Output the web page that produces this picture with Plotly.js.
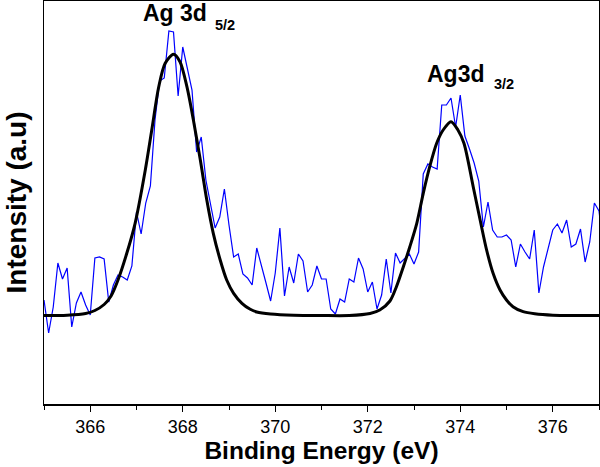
<!DOCTYPE html>
<html>
<head>
<meta charset="utf-8">
<script src="https://cdn.plot.ly/plotly-3.0.1.min.js"></script>
<style>html,body{margin:0;padding:0;background:#fff}#chart{width:600px;height:467px}</style>
</head>
<body>
<div id="chart"></div>
<script>
// Measured spectrum (binding energy in eV, step 0.1 starting at 365.0)
const rawStart = 365.0;
const rawStep = 0.1;
const rawIntensity = [
  104, 71, 97, 141, 125, 136, 77, 101, 112, 99,
  89, 146, 147, 145, 102, 119, 129, 127, 124, 138,
  192, 170, 201, 218, 284, 323, 326, 373, 372, 308,
  357, 337, 314, 252, 267, 224, 201, 176, 187, 215,
  179, 147, 150, 130, 126, 119, 156, 137, 121, 103,
  131, 176, 108, 137, 121, 150, 143, 112, 119, 138,
  125, 125, 95, 90, 105, 102, 125, 122, 146, 135,
  112, 122, 95, 109, 145, 111, 151, 141, 145, 150,
  140, 152, 230, 240, 237, 235, 299, 299, 306, 277,
  309, 268, 255, 241, 223, 177, 202, 174, 167, 167,
  169, 164, 137, 160, 152, 145, 174, 111, 137, 157,
  174, 180, 171, 184, 157, 160, 175, 142, 162, 201,
  193, 154
];
const rawEnergy = rawIntensity.map((_, i) => +(rawStart + i * rawStep).toFixed(2));

// Fitted envelope
const fitEnergy = [
  365.0, 365.5, 365.9, 366.1, 366.3, 366.45, 366.6, 366.79, 366.97, 367.19,
  367.33, 367.48, 367.62, 367.8, 367.94, 368.09, 368.23, 368.38, 368.52, 368.66,
  368.81, 368.95, 369.1, 369.28, 369.46, 369.6, 369.9, 370.4, 371.0, 371.6,
  372.05, 372.26, 372.48, 372.62, 372.77, 372.91, 373.06, 373.2, 373.34, 373.49,
  373.63, 373.8, 373.95, 374.08, 374.28, 374.43, 374.57, 374.71, 374.86, 375.0,
  375.14, 375.36, 375.61, 376.0, 376.5, 377.0
];
const fitIntensity = [
  88.5, 88.8, 90.5, 93.5, 99.5, 108, 124, 150.7, 180.7, 234,
  274, 317, 340.7, 349.7, 342.3, 317.3, 284, 244, 204, 170.7,
  144, 124, 110.7, 100.7, 94.7, 92, 90, 88.8, 88.5, 88.5,
  90.5, 94, 103, 117.3, 137.3, 157.3, 180.7, 210.7, 237.3, 260.7,
  274, 282.3, 274, 260.7, 217.3, 184, 154, 130.7, 114, 104,
  97.3, 92.3, 90.2, 88.8, 88.5, 88.5
];

const xTickVals = [366, 368, 370, 372, 374, 376];
const xTickText = ['366', '368', '370', '372', '374', '376'];

const FONT = 'Liberation Sans, Arial, Helvetica, sans-serif';

const traces = [
  {
    x: rawEnergy, y: rawIntensity, type: 'scatter', mode: 'lines',
    line: {color: '#0000ff', width: 1.2}, hoverinfo: 'skip'
  },
  {
    x: fitEnergy, y: fitIntensity, type: 'scatter', mode: 'lines',
    line: {color: '#000000', width: 3, shape: 'spline', smoothing: 0.8}, hoverinfo: 'skip'
  }
];

const layout = {
  width: 600, height: 467,
  margin: {l: 44, r: 1, t: 1, b: 63},
  paper_bgcolor: '#ffffff', plot_bgcolor: '#ffffff',
  showlegend: false,
  font: {family: FONT, color: '#000'},
  xaxis: {
    range: [365, 377],
    tickmode: 'array', tickvals: xTickVals, ticktext: xTickText,
    ticks: 'outside', ticklen: 6, tickwidth: 1, tickcolor: '#000',
    minor: {dtick: 1, tick0: 365, ticks: 'outside', ticklen: 4, tickwidth: 1, tickcolor: '#000', showgrid: false},
    showgrid: false, zeroline: false,
    showline: true, linecolor: '#000', linewidth: 1.5, mirror: true,
    tickfont: {family: FONT, size: 18, color: '#000'},
    title: {text: '<b>Binding Energy (eV)</b>', font: {family: FONT, size: 24.5, color: '#000'}, standoff: 0}
  },
  yaxis: {
    range: [0, 403],
    showticklabels: false, ticks: '',
    showgrid: false, zeroline: false,
    showline: true, linecolor: '#000', linewidth: 1.5, mirror: true,
    title: {text: '<b>Intensity (a.u)</b>', font: {family: FONT, size: 28, color: '#000'}, standoff: 7}
  },
  annotations: [
    {x: 367.84, y: 391, xref: 'x', yref: 'y', text: '<b>Ag 3d</b>',
     showarrow: false, font: {family: FONT, size: 23, color: '#000'}, xanchor: 'center', yanchor: 'middle'},
    {x: 368.66, y: 379, xref: 'x', yref: 'y', text: '<b>5/2</b>',
     showarrow: false, font: {family: FONT, size: 14.5, color: '#000'}, xanchor: 'left', yanchor: 'middle'},
    {x: 373.9, y: 330.5, xref: 'x', yref: 'y', text: '<b>Ag3d</b>',
     showarrow: false, font: {family: FONT, size: 23, color: '#000'}, xanchor: 'center', yanchor: 'middle'},
    {x: 374.68, y: 320.5, xref: 'x', yref: 'y', text: '<b>3/2</b>',
     showarrow: false, font: {family: FONT, size: 14.5, color: '#000'}, xanchor: 'left', yanchor: 'middle'}
  ]
};

Plotly.newPlot('chart', traces, layout, {staticPlot: true, displayModeBar: false});
</script>
</body>
</html>
